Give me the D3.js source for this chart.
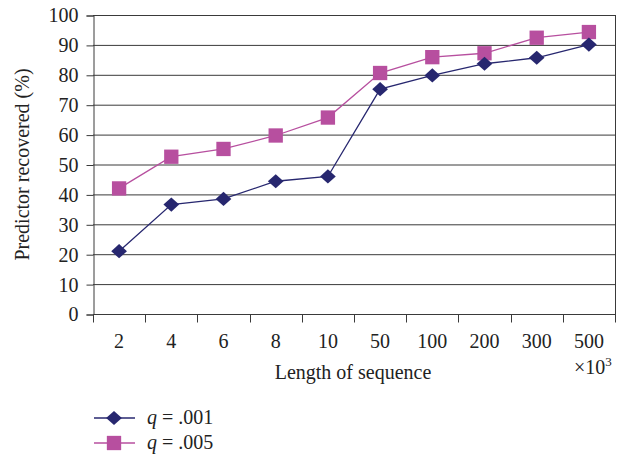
<!DOCTYPE html>
<html>
<head>
<meta charset="utf-8">
<script src="https://cdn.jsdelivr.net/npm/d3@7"></script>
<style>
  html, body { margin: 0; padding: 0; background: #fff; }
  svg { display: block; }
  text { font-family: "Liberation Serif", "DejaVu Serif", serif; fill: #222; }
</style>
</head>
<body>
<svg id="chart" width="624" height="457"></svg>
<script>
// Sequence lengths (in thousands) and recovery rates for two q thresholds
const categories = ["2", "4", "6", "8", "10", "50", "100", "200", "300", "500"];
const q001 = [21, 36.6, 38.5, 44.4, 46, 75.2, 79.8, 83.7, 85.7, 90.1];
const q005 = [42, 52.6, 55.2, 59.7, 65.7, 80.6, 85.9, 87.2, 92.4, 94.3];
const yTicks = [0, 10, 20, 30, 40, 50, 60, 70, 80, 90, 100];

const navy = "#27276f";
const magenta = "#b74f9f";
const fs = "20px";

const svg = d3.select("#chart");
const m = { left: 93, right: 615, top: 15, bottom: 314 };

const x = d3.scaleBand().domain(categories).range([m.left, m.right]);
const y = d3.scaleLinear().domain([0, 100]).range([m.bottom, m.top]);

// horizontal gridlines
svg.append("g").selectAll("line").data(yTicks.filter(d => d > 0)).join("line")
  .attr("x1", m.left).attr("x2", m.right)
  .attr("y1", d => y(d) + 0.5).attr("y2", d => y(d) + 0.5)
  .attr("stroke", "#3a3a3a").attr("stroke-width", 1);

// right border
svg.append("line")
  .attr("x1", m.right + 0.5).attr("x2", m.right + 0.5)
  .attr("y1", m.top).attr("y2", m.bottom)
  .attr("stroke", "#3a3a3a");

// y axis
const yAxis = svg.append("g")
  .attr("transform", `translate(${m.left + 0.5},0.5)`)
  .call(d3.axisLeft(y).tickValues(yTicks).tickSize(7).tickPadding(8));
yAxis.select(".domain").attr("stroke", "#3a3a3a");
yAxis.selectAll(".tick line").attr("stroke", "#3a3a3a");
yAxis.selectAll("text").style("font-size", fs).attr("fill", "#222")
  .style("font-family", "Liberation Serif, serif");

// x axis: ticks at band boundaries
const xg = svg.append("g").attr("transform", `translate(0,${m.bottom + 0.5})`);
xg.append("line").attr("x1", m.left).attr("x2", m.right + 1)
  .attr("stroke", "#3a3a3a");
const bounds = categories.map(c => x(c)).concat([m.right]);
xg.selectAll("line.tk").data(bounds).join("line").attr("class", "tk")
  .attr("x1", d => Math.round(d) + 0.5).attr("x2", d => Math.round(d) + 0.5)
  .attr("y1", 0).attr("y2", 8).attr("stroke", "#3a3a3a");
xg.selectAll("text").data(categories).join("text")
  .attr("x", d => x(d) + x.bandwidth() / 2).attr("y", 33)
  .attr("text-anchor", "middle").style("font-size", fs)
  .text(d => d);

// axis titles
svg.append("text")
  .attr("transform", `translate(29,${(m.top + m.bottom) / 2}) rotate(-90)`)
  .attr("text-anchor", "middle").style("font-size", fs)
  .text("Predictor recovered (%)");
svg.append("text").attr("x", 353).attr("y", 379)
  .attr("text-anchor", "middle").style("font-size", fs)
  .text("Length of sequence");
const mult = svg.append("text").attr("x", 574).attr("y", 374).style("font-size", fs);
mult.append("tspan").text("×10");
mult.append("tspan").attr("dy", -8).style("font-size", "13px").text("3");

const cx = (d, i) => x(categories[i]) + x.bandwidth() / 2;
const line = d3.line().x((d, i) => cx(d, i)).y(d => y(d));

// series lines
svg.append("path").datum(q005).attr("d", line)
  .attr("fill", "none").attr("stroke", magenta).attr("stroke-width", 1.3);
svg.append("path").datum(q001).attr("d", line)
  .attr("fill", "none").attr("stroke", navy).attr("stroke-width", 1.3);

const sq = d3.symbol().type(d3.symbolSquare).size(205);
const dia = d3.symbol().type(d3.symbolSquare).size(112);

svg.append("g").selectAll("path").data(q005).join("path")
  .attr("d", sq).attr("fill", magenta)
  .attr("transform", (d, i) => `translate(${cx(d, i)},${y(d)})`);
svg.append("g").selectAll("path").data(q001).join("path")
  .attr("d", dia).attr("fill", navy)
  .attr("transform", (d, i) => `translate(${cx(d, i)},${y(d)}) scale(1.05,0.95) rotate(45)`);

// legend
const legend = [
  { label: ".001", color: navy, shape: dia, rot: " scale(1.05,0.95) rotate(45)", yy: 418 },
  { label: ".005", color: magenta, shape: sq, rot: "", yy: 443 }
];
const lg = svg.append("g").selectAll("g").data(legend).join("g")
  .attr("transform", d => `translate(0,${d.yy})`);
lg.append("line").attr("x1", 94).attr("x2", 135).attr("y1", 0).attr("y2", 0)
  .attr("stroke", d => d.color).attr("stroke-width", 1.3);
lg.append("path").attr("d", d => d.shape()).attr("fill", d => d.color)
  .attr("transform", d => "translate(114,0)" + d.rot);
const lt = lg.append("text").attr("x", 147).attr("y", 6).style("font-size", fs);
lt.append("tspan").style("font-style", "italic").text("q");
lt.append("tspan").text(d => " = " + d.label);
</script>
</body>
</html>
